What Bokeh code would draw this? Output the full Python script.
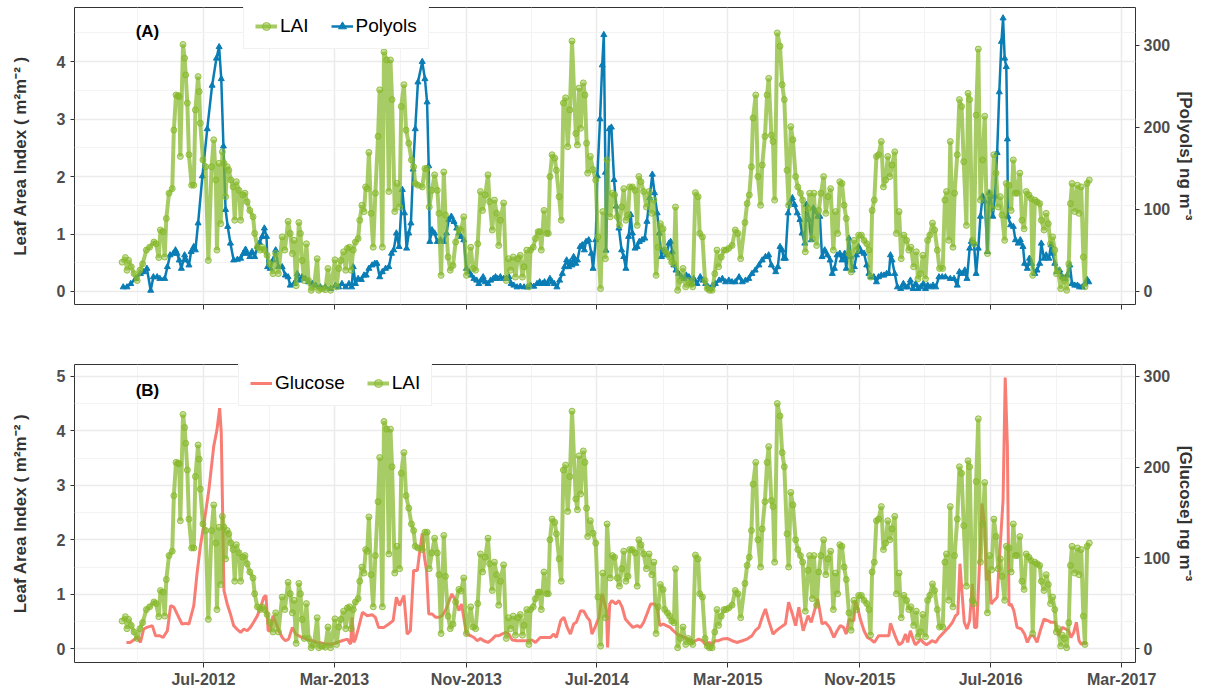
import pandas as pd
from bokeh.plotting import figure
from bokeh.models import (Range1d, LinearAxis, FixedTicker, Label, Legend, LegendItem,
                          ColumnDataSource, DatetimeTickFormatter, CustomJSTickFormatter)
from bokeh.layouts import column
from bokeh.embed import file_html
from bokeh.resources import INLINE

# ---------------- data (x = days since 2012-01-01) ----------------
EPOCH = pd.Timestamp("2012-01-01")

lai_day = [31,37,40,43,48,53,59,64,69,76,82,90,94,99,102,107,110,113,118,124,127,131,135,137,139,144,147,149,152,155,160,164,167,172,174,176,181,186,191,197,201,205,207,211,214,217,220,223,226,229,233,237,240,243,248,251,255,259,263,268,274,277,282,287,291,295,300,305,311,316,
           321,328,333,339,343,347,350,354,359,362,365,369,373,377,382,387,393,396,402,408,413,418,426,429,433,437,442,446,449,453,456,460,464,469,472,476,480,483,486,489,493,497,501,506,509,514,517,522,526,529,532,537,541,546,549,554,558,563,568,572,575,580,588,593,597,601,606,611,616,619,623,
           628,631,636,640,645,650,656,660,665,670,678,682,687,691,696,700,705,710,713,718,722,726,730,733,739,744,748,752,757,761,765,770,774,777,782,786,789,794,798,803,806,809,814,819,822,825,829,834,837,842,846,850,854,858,862,866,873,876,879,882,887,890,893,895,900,905,910,914,919,923,
           928,931,937,941,945,950,954,958,962,966,970,973,978,983,987,990,994,999,1004,1009,1014,1018,1022,1026,1030,1035,1038,1043,1047,1051,1055,1058,1062,1067,1072,1077,1082,1086,1090,1095,1100,1103,1108,1113,1117,1121,1126,1131,1135,1138,1143,1148,1152,1157,1163,1169,1174,1179,1187,1191,1195,1199,1202,1207,1211,1216,1219,1224,1228,1231,1236,1239,1242,
           1247,1252,1256,1260,1265,1268,1272,1276,1281,1285,1290,1294,1299,1304,1307,1312,1315,1320,1324,1328,1333,1337,1341,1346,1351,1355,1359,1363,1367,1371,1375,1380,1384,1389,1394,1398,1403,1408,1413,1417,1420,1423,1427,1431,1435,1440,1444,1448,1452,1456,1460,1465,1468,1473,1477,1482,1487,1491,1495,1500,1505,1508,1513,1517,1522,1526,1530,1535,1539,1544,1548,
           1554,1558,1561,1565,1568,1573,1576,1581,1585,1589,1593,1598,1601,1604,1609,1612,1616,1620,1624,1628,1632,1637,1641,1645,1649,1653,1657,1661,1664,1669,1672,1677,1681,1685,1689,1692,1697,1701,1705,1709,1714,1718,1721,1725,1729,1734,1737,1742,1746,1750,1754,1758,1762,1765,1768,1773,1776,1780,1784,1788,1791,1794,1799,1804,1807,1811,1815,1818,1822,1826]
lai_val = [0.51,0.59,0.37,0.54,0.43,0.31,0.19,0.37,0.48,0.72,0.77,0.86,0.83,0.59,1.07,1.04,0.60,1.27,1.71,1.79,2.81,3.42,3.41,3.39,2.35,4.30,4.06,3.77,3.28,2.38,1.85,1.85,3.16,3.74,3.48,2.93,2.29,2.17,0.54,2.17,2.64,1.94,0.72,2.23,1.18,2.43,2.23,1.65,2.17,2.11,1.94,1.82,1.24,1.91,1.76,1.24,1.68,1.71,1.56,1.41,1.30,1.01,0.77,0.72,0.77,0.72,0.63,0.48,0.31,0.66,
           0.31,0.95,0.72,1.22,1.01,0.66,0.89,0.10,1.20,1.01,0.54,0.19,0.83,0.19,0.02,0.08,0.57,0.02,0.05,0.03,0.40,0.02,0.55,0.08,0.40,0.54,0.69,0.37,0.75,0.77,0.37,0.72,0.86,0.92,1.24,1.50,1.39,1.82,1.79,2.42,1.36,0.77,1.71,2.70,3.51,0.77,4.17,4.03,1.74,4.03,3.34,1.39,1.88,1.47,3.22,3.60,2.81,2.58,2.29,2.17,1.88,1.85,1.82,2.14,2.14,1.47,1.76,2.03,1.76,1.36,0.28,
           2.08,1.33,0.60,0.37,0.45,0.86,1.09,1.06,1.30,0.28,0.77,0.40,0.37,0.83,1.74,1.41,1.68,2.03,1.56,1.07,1.59,1.36,0.80,1.24,1.54,0.19,0.57,0.37,0.60,0.25,0.57,0.63,0.25,0.43,0.72,0.08,0.72,0.77,0.92,1.04,1.04,0.72,1.41,1.01,1.01,2.00,2.38,2.32,2.11,1.65,1.24,3.28,3.37,2.52,3.16,4.36,2.75,2.55,3.54,2.84,3.63,3.42,2.58,2.06,2.35,2.12,1.94,0.95,0.05,1.39,
           0.57,2.29,1.30,1.71,1.68,1.30,1.15,1.47,1.79,1.24,1.33,1.82,1.82,1.76,1.15,2.00,1.91,1.74,1.47,1.74,1.36,1.59,0.28,0.77,1.18,1.09,0.72,0.66,0.60,0.51,0.48,1.47,0.02,0.19,0.40,0.08,0.19,0.13,0.08,1.72,1.65,1.01,0.95,0.19,0.05,0.02,0.02,0.31,0.72,0.43,0.60,0.72,0.72,0.75,0.80,1.07,1.01,0.57,1.20,1.53,1.68,2.17,3.02,3.42,2.00,1.50,2.20,2.70,3.42,3.71,2.72,2.61,1.59,
           4.50,4.27,3.60,3.34,2.11,1.50,2.87,2.64,2.00,1.82,1.71,1.59,0.69,1.44,1.71,0.92,1.71,0.80,1.41,1.71,2.00,1.36,1.65,1.79,0.72,1.39,1.01,1.91,1.88,1.50,1.27,0.66,0.34,0.89,0.72,0.98,0.98,0.89,0.83,0.72,0.25,1.41,1.59,2.35,2.38,2.61,1.82,1.94,2.35,2.00,2.20,2.43,1.01,1.39,0.57,0.98,0.89,0.72,0.77,0.43,0.69,0.22,0.31,0.63,0.22,0.89,0.98,1.19,1.07,0.72,0.40,
           0.40,1.59,1.74,0.89,2.61,0.77,1.71,2.38,3.34,3.22,2.26,1.15,3.45,3.34,0.89,0.83,3.07,4.22,1.59,2.29,3.05,0.66,1.71,1.45,2.38,2.06,1.47,1.65,1.33,0.89,1.88,1.85,1.41,2.29,1.71,1.71,2.06,1.24,1.09,1.74,1.68,1.62,0.28,1.59,1.56,1.53,1.24,1.07,1.36,1.18,0.83,0.95,0.72,0.31,0.37,0.05,0.25,0.19,0.02,0.48,1.53,1.88,1.39,1.85,1.36,1.82,0.60,0.08,1.88,1.94]

polyol_day = [33,40,47,56,65,71,77,84,89,96,101,110,115,120,126,130,133,137,141,147,150,155,159,164,167,172,180,189,198,206,211,215,219,223,227,232,238,245,251,256,260,263,268,272,277,282,286,291,295,299,301,306,311,316,321,
              328,334,339,343,350,356,360,365,371,377,384,390,399,408,418,427,433,439,446,452,457,460,464,469,475,480,484,489,495,500,504,509,514,520,526,531,535,540,545,551,555,559,563,567,571,575,580,588,593,597,600,602,606,611,616,622,628,
              633,637,642,647,652,656,660,665,670,675,679,684,689,693,697,701,705,710,715,720,724,728,733,739,744,749,753,758,764,770,777,783,789,795,801,806,811,815,820,825,829,833,838,843,848,852,856,860,863,866,869,873,876,881,885,889,892,897,902,905,910,913,918,922,925,928,929,935,939,944,
              948,953,958,962,966,971,975,978,983,987,991,996,1001,1005,1010,1015,1019,1024,1028,1032,1036,1041,1046,1049,1052,1055,1059,1064,1069,1074,1078,1083,1088,1092,1098,1104,1109,1114,1119,1123,1127,1132,1139,1145,1151,1157,1163,1169,1176,1182,1188,1194,1200,1206,1213,1219,1225,1231,1236,
              1244,1248,1252,1256,1259,1262,1267,1270,1275,1279,1284,1289,1293,1298,1301,1306,1310,1314,1318,1322,1326,1330,1335,1340,1345,1349,1353,1358,1363,1367,1372,1375,1380,1383,1386,1390,1394,1398,1403,1408,1413,1417,1421,1426,1431,1435,1440,1445,1450,1454,1457,1460,1465,1470,1476,1481,1485,1489,1494,1499,1504,1508,1513,1518,1522,1526,1531,1536,1541,
              1547,1553,1559,1568,1575,1581,1585,1590,1595,1599,1604,1607,1612,1616,1620,1624,1628,1632,1637,1640,1643,1647,1651,1655,1659,1663,1666,1669,1672,1674,1675,1680,1685,1689,1694,1698,1703,1706,1711,1715,1719,1725,1729,1734,1737,1742,1746,1751,1755,1758,1762,1766,1771,1776,1781,1785,1790,1794,1799,1804,1808,1813,1818,1822,1825]
polyol_val = [5.3,5.3,9.4,15.6,21.7,23.8,27.9,1.2,17.6,17.6,15.6,15.6,29.9,44.3,46.3,50.4,46.3,38.1,27.9,44.3,38.1,32.0,48.4,54.5,50.4,83.2,140.6,198,251,284,298,259,177,99.6,79,58.6,38.1,38.9,40.2,46.3,51.2,46.3,42.2,48.4,42.2,54.5,59.4,66.8,77.0,66.8,29.9,27.9,38.1,50.4,30,
              29.9,19.7,17.6,7.4,9.4,21.7,13.5,17.6,15.6,11.5,9.4,7.4,5.3,5.3,3.3,7.4,5.3,9.4,5.3,9.4,5.3,29.9,9.4,15.6,14.3,19.7,19.7,27.9,32.0,34.0,34.0,17.6,23.8,27.9,29.9,46.3,50.4,70.9,54.5,124,95.5,52.5,70.9,83.2,148.8,198,255,280,259,230.7,152.9,60.7,75,70.9,60.7,62.7,60.7,
              70.9,87.3,91.4,85,77,70.9,66.8,62.7,27.9,23.8,19.7,15.6,13.5,9.4,13.5,17.6,11.5,9.4,13.5,15.6,17.6,15.6,17.6,15.6,15.6,17.6,9.4,7.4,5.3,6.1,5.3,5.3,7.4,6.1,9.4,11.5,9.4,11.5,9.4,15.6,11.5,9.4,5.3,13.5,21.7,29.9,38.1,29.9,36.1,32.0,42.2,34.0,38.1,54.5,56.6,50.4,60.7,62.7,46.3,27.9,62.7,140.6,210,275.8,312.7,145,50,198,200,136,
              103.7,77,50.4,42.2,27.9,66.8,93.4,70.9,52.5,54.5,60.7,62.7,64.7,85.2,114,142.6,120,95.5,70.9,42.2,50.4,44.3,58.6,60.7,48.4,32,25.8,21.7,17.6,15.6,19.7,17.6,9.4,15.6,9.4,17.6,13.5,9.4,5.3,3.3,7.4,9.4,13.5,15.6,11.5,13.5,11.5,11.5,17.6,11.5,13.5,15.6,21.7,25.8,32,38.1,42.2,44.3,32,
              23.8,29.9,54.5,50.4,40.2,40.2,95.5,107.8,114,105.7,95.5,87.3,70.9,58.6,105.7,87.3,62.7,101.6,97.5,91.4,91.4,42.2,50.4,44.3,38.1,21.7,27.9,44.3,46.3,38.1,46.3,27.9,64.7,42.2,25.8,29.9,44.3,54.5,48.4,46.3,32,21.7,17.6,17.6,11.5,17.6,19.7,19.7,21.7,21.7,44.3,38.1,21.7,5.3,3.3,9.4,5.3,5.3,13.5,3.3,9.4,3.3,5.3,9.4,3.3,7.4,5.3,7.4,5.3,
              17.6,17.6,17.6,15.6,15.6,7.4,23.8,21.7,25.8,15.6,52.5,60.7,58.6,21.7,52.5,91.4,116,110,48.4,120,116,91.4,116,169,243,304.5,333,284,273.7,185.6,91.4,81,79,62.7,58.6,62.7,54.5,34,27.9,40.2,34,21.7,25.8,34,58.6,40.2,44.3,40.2,56.6,46.3,34,23.8,25.8,17.6,15.6,19.7,32,9.4,7.4,7.4,5.3,5.3,9.4,14.3,11.5]

glucose_day = [39,46,53,59,65,71,77,87,93,101,107,115,121,127,133,142,149,155,164,170,176,183,192,201,207,212,215,220,226,232,238,244,251,257,263,269,275,282,288,294,298,302,306,311,316,322,328,334,340,347,353,359,365,374,384,393,402,411,421,430,439,449,455,458,461,464,470,477,486,495,501,507,517,526,534,540,546,554,560,566,572,579,
               582,588,592,596,600,606,613,619,625,631,637,643,650,656,661,665,670,678,684,690,696,702,710,718,724,730,736,743,749,755,764,773,783,792,798,807,817,826,832,837,845,851,857,863,869,874,882,888,894,899,903,910,916,922,926,930,932,936,940,947,953,959,965,973,979,987,993,999,1005,1012,1019,1024,1029,1035,1041,1048,1054,1061,1067,1074,1081,1089,1095,1101,1108,1114,1120,1126,1132,1138,1145,1154,1163,1172,1182,1191,1200,1206,1213,1219,1225,1231,1239,1245,1253,1262,1268,1275,1281,1287,
               1295,1304,1310,1316,1322,1330,1336,1344,1352,1358,1364,1370,1375,1380,1384,1389,1392,1396,1401,1408,1414,1420,1427,1435,1445,1454,1457,1462,1468,1473,1479,1485,1489,1494,1499,1503,1508,1513,1518,1524,1530,1534,1541,1547,1553,1559,1565,1572,1578,1582,1586,1590,1594,1599,1604,1609,1613,1617,1621,1627,1632,1635,1640,1644,1649,1655,1661,1666,1670,1674,1677,1681,1686,1692,1700,1706,1711,1717,1723,1729,1735,1742,1749,1755,1763,1769,1776,1782,1788,1792,1797,1802,1807,1811,1816,1821]
glucose_val = [7.0,7.0,10.0,12.5,7.0,21.8,23.6,25.5,14.4,14.4,12.5,19.9,47.6,45.8,38.4,27.3,28.0,27.3,47.6,82.7,112,138,175,222.9,241,265,237.6,64.2,49.4,38.4,25.5,21.8,18.1,21.8,19.9,23.6,29.2,36.5,45.8,56.8,58.7,19.9,19.9,36.5,29.2,19.9,12.5,8.9,10.7,23.6,16.2,14.4,12.5,10.7,8.9,7.0,6.3,5.2,5.2,7.0,8.9,10.7,5.2,34.7,7.0,10.7,23.6,40.2,36.5,37.6,34.7,23.6,23.6,27.3,31.0,56.8,47.6,58.7,16.2,19.9,86.3,86.3,
               101,127,101,86.3,38.4,38.4,34.7,34.7,36.5,42,51.3,60.5,53,42,49.4,34.7,16.2,14.4,12.5,8.9,11.4,8.9,7.0,10.7,14.4,14.4,16.2,18.1,16.2,9.6,8.9,8.9,8.9,9.6,7.0,12.5,12.5,12.5,16.2,12.5,31.0,34.7,23.6,16.2,27.3,29.2,42.0,41.3,34.7,31.0,16.2,25.5,34.7,60.5,51.3,42.0,1.5,49.4,53.0,49.4,53.0,45.8,32.8,27.3,23.6,25.5,23.6,29.2,38.4,49.4,49.4,45.8,25.5,27.3,25.5,23.6,19.9,16.2,14.4,12.5,10.7,7.0,8.9,10.7,8.9,4.4,7.0,5.2,8.9,8.9,10.7,11.4,8.9,7.0,8.9,10.7,14.4,19.9,23.6,34.7,43.9,31.0,16.2,19.9,23.6,27.3,51.3,38.4,25.5,45.8,
               19.9,36.5,29.2,42.0,55.0,27.3,29.2,23.6,12.5,19.9,25.5,23.6,16.2,32.8,31.0,31.0,53.0,45.8,32.8,19.9,12.5,10.7,7.0,14.4,14.4,14.4,28.0,19.9,10.7,4.4,7.0,16.2,7.0,19.9,10.7,4.4,7.0,10.7,7.0,4.4,7.0,8.9,7.0,12.5,16.2,19.9,23.6,29.2,36.5,38.4,93.7,60.5,29.2,21.8,31.0,71.6,23.6,23.6,75.3,160,136,75.3,86.3,49.4,53.0,56.8,115.9,163.8,298.5,222.9,47.6,49.4,42.0,23.6,21.8,16.2,7.0,14.4,14.4,7.0,19.9,32.8,31.0,29.2,29.2,14.4,23.6,21.8,19.9,12.5,17.6,29.2,8.9,5.2,7.0,5.2]

# tick labels
x_major = ["2012-07-01", "2013-03-01", "2013-11-01", "2014-07-01",
           "2015-03-01", "2015-11-01", "2016-07-01", "2017-03-01"]
x_minor = ["2012-03-01", "2012-11-01", "2013-07-01", "2014-03-01",
           "2014-11-01", "2015-07-01", "2016-03-01", "2016-11-01"]
lai_ticks_a = [0, 1, 2, 3, 4]
lai_ticks_b = [0, 1, 2, 3, 4, 5]
lai_minor = [0.5, 1.5, 2.5, 3.5, 4.5]
conc_ticks = [0, 100, 200, 300]

# ---------------- helpers ----------------
def to_dates(days):
    return EPOCH + pd.to_timedelta(days, unit="D")

def ms(s):
    return pd.Timestamp(s).value / 1e6

FONT = "Liberation Sans"
LAI_COLOR = "#86B82A"
POLY_COLOR = "#0A7DB5"
GLU_COLOR = "#F8766D"

x_start = (EPOCH + pd.Timedelta(days=-57.4)).value / 1e6
x_end = (EPOCH + pd.Timedelta(days=1911.8)).value / 1e6
x_range = Range1d(x_start, x_end)

lai_src = ColumnDataSource(dict(x=to_dates(lai_day), y=lai_val))
poly_src = ColumnDataSource(dict(x=to_dates(polyol_day), y=polyol_val))
glu_src = ColumnDataSource(dict(x=to_dates(glucose_day), y=glucose_val))

x_ticker = FixedTicker(ticks=[ms(d) for d in x_major], minor_ticks=[ms(d) for d in x_minor])
fmt = DatetimeTickFormatter(days="%b-%Y", months="%b-%Y", years="%b-%Y", context=None)


def make_panel(height, top, bottom, y0, y1, factor, lai_ticks, right_title,
               show_xlabels):
    p = figure(width=1202, height=height, x_axis_type="datetime",
               x_range=x_range, y_range=Range1d(y0, y1),
               output_backend="svg", toolbar_location=None,
               min_border_left=74, min_border_right=67,
               min_border_top=top, min_border_bottom=bottom)
    p.extra_y_ranges = {"sec": Range1d(y0 * factor, y1 * factor)}
    p.add_layout(LinearAxis(y_range_name="sec", ticker=FixedTicker(ticks=conc_ticks),
                            axis_label=right_title), "right")
    p.background_fill_color = "white"
    p.border_fill_color = "white"
    p.outline_line_color = "#333333"
    p.outline_line_width = 1

    p.xaxis.ticker = x_ticker
    p.xgrid.ticker = x_ticker
    yt = FixedTicker(ticks=lai_ticks, minor_ticks=lai_minor)
    p.yaxis[0].ticker = yt
    p.ygrid.ticker = yt

    for g in (p.xgrid, p.ygrid):
        g.grid_line_color = "#EBEBEB"
        g.grid_line_width = 1.5
        g.minor_grid_line_color = "#F3F3F3"
        g.minor_grid_line_width = 1

    for ax in p.axis:
        ax.axis_line_color = None
        ax.major_tick_line_color = "#333333"
        ax.major_tick_line_width = 1
        ax.major_tick_in = 0
        ax.major_tick_out = 4
        ax.minor_tick_line_color = None
        ax.major_label_text_font = FONT
        ax.major_label_text_font_style = "bold"
        ax.major_label_text_font_size = "16px"
        ax.major_label_text_color = "#4D4D4D"
        ax.axis_label_text_font = FONT
        ax.axis_label_text_font_style = "bold"
        ax.axis_label_text_font_size = "17px"
        ax.axis_label_text_color = "#333333"
    p.xaxis.major_tick_out = 5
    p.yaxis[0].axis_label = "Leaf Area Index ( m²m⁻² )"
    p.yaxis[0].axis_label_standoff = 24
    p.yaxis[0].major_label_standoff = 5
    p.yaxis[1].major_label_standoff = 4
    p.yaxis[1].axis_label_standoff = 3
    if show_xlabels:
        p.xaxis.formatter = fmt
        p.xaxis.major_label_standoff = 3
    else:
        p.xaxis.formatter = CustomJSTickFormatter(code="return ''")
        p.xaxis.major_label_standoff = 0
    return p


def add_lai(p):
    ln = p.line("x", "y", source=lai_src, line_color=LAI_COLOR, line_width=4, line_alpha=0.72)
    pts = p.scatter("x", "y", source=lai_src, marker="circle", size=6,
                    fill_color=LAI_COLOR, fill_alpha=0.45,
                    line_color=LAI_COLOR, line_alpha=0.8, line_width=1)
    return [ln, pts]


def style_legend(lg):
    lg.orientation = "horizontal"
    lg.label_text_font = FONT
    lg.label_text_font_size = "19px"
    lg.label_text_color = "black"
    lg.border_line_color = "#E3E3E3"
    lg.border_line_width = 1
    lg.background_fill_color = "white"
    lg.background_fill_alpha = 1
    lg.padding = 11
    lg.spacing = 22
    lg.margin = 0
    lg.glyph_width = 22
    lg.glyph_height = 20
    lg.label_height = 20
    lg.label_standoff = 3


# ---------------- panel A ----------------
pA = make_panel(324, 7, 20, -0.227, 4.943, 70, lai_ticks_a,
                "[Polyols] ng m⁻³", False)
poly_ln = pA.line("x", "y", source=poly_src, y_range_name="sec",
                  line_color=POLY_COLOR, line_width=2.5)
poly_pts = pA.scatter("x", "y", source=poly_src, y_range_name="sec", marker="triangle",
                      size=6, fill_color=POLY_COLOR, line_color=POLY_COLOR)
laiA = add_lai(pA)
legA = Legend(items=[LegendItem(label="LAI", renderers=laiA),
                     LegendItem(label="Polyols", renderers=[poly_ln, poly_pts])],
              location=(169, 255))
style_legend(legA)
pA.add_layout(legA)
pA.add_layout(Label(x=(EPOCH + pd.Timedelta(days=78)).value / 1e6, y=4.52, text="(A)",
                    text_font=FONT, text_font_style="bold", text_font_size="17px",
                    text_color="black", text_align="center", text_baseline="middle"))

# ---------------- panel B ----------------
pB = make_panel(366, 40, 28, -0.251, 5.216, 60, lai_ticks_b,
                "[Glucose] ng m⁻³", True)
glu_ln = pB.line("x", "y", source=glu_src, y_range_name="sec",
                 line_color=GLU_COLOR, line_width=3, line_alpha=0.95)
laiB = add_lai(pB)
legB = Legend(items=[LegendItem(label="Glucose", renderers=[glu_ln]),
                     LegendItem(label="LAI", renderers=laiB)],
              location=(164, 256))
style_legend(legB)
pB.add_layout(legB)
pB.add_layout(Label(x=(EPOCH + pd.Timedelta(days=78)).value / 1e6, y=4.74, text="(B)",
                    text_font=FONT, text_font_style="bold", text_font_size="17px",
                    text_color="black", text_align="center", text_baseline="middle"))

layout = column(pA, pB)
open("out.html", "w").write(file_html(layout, INLINE))
